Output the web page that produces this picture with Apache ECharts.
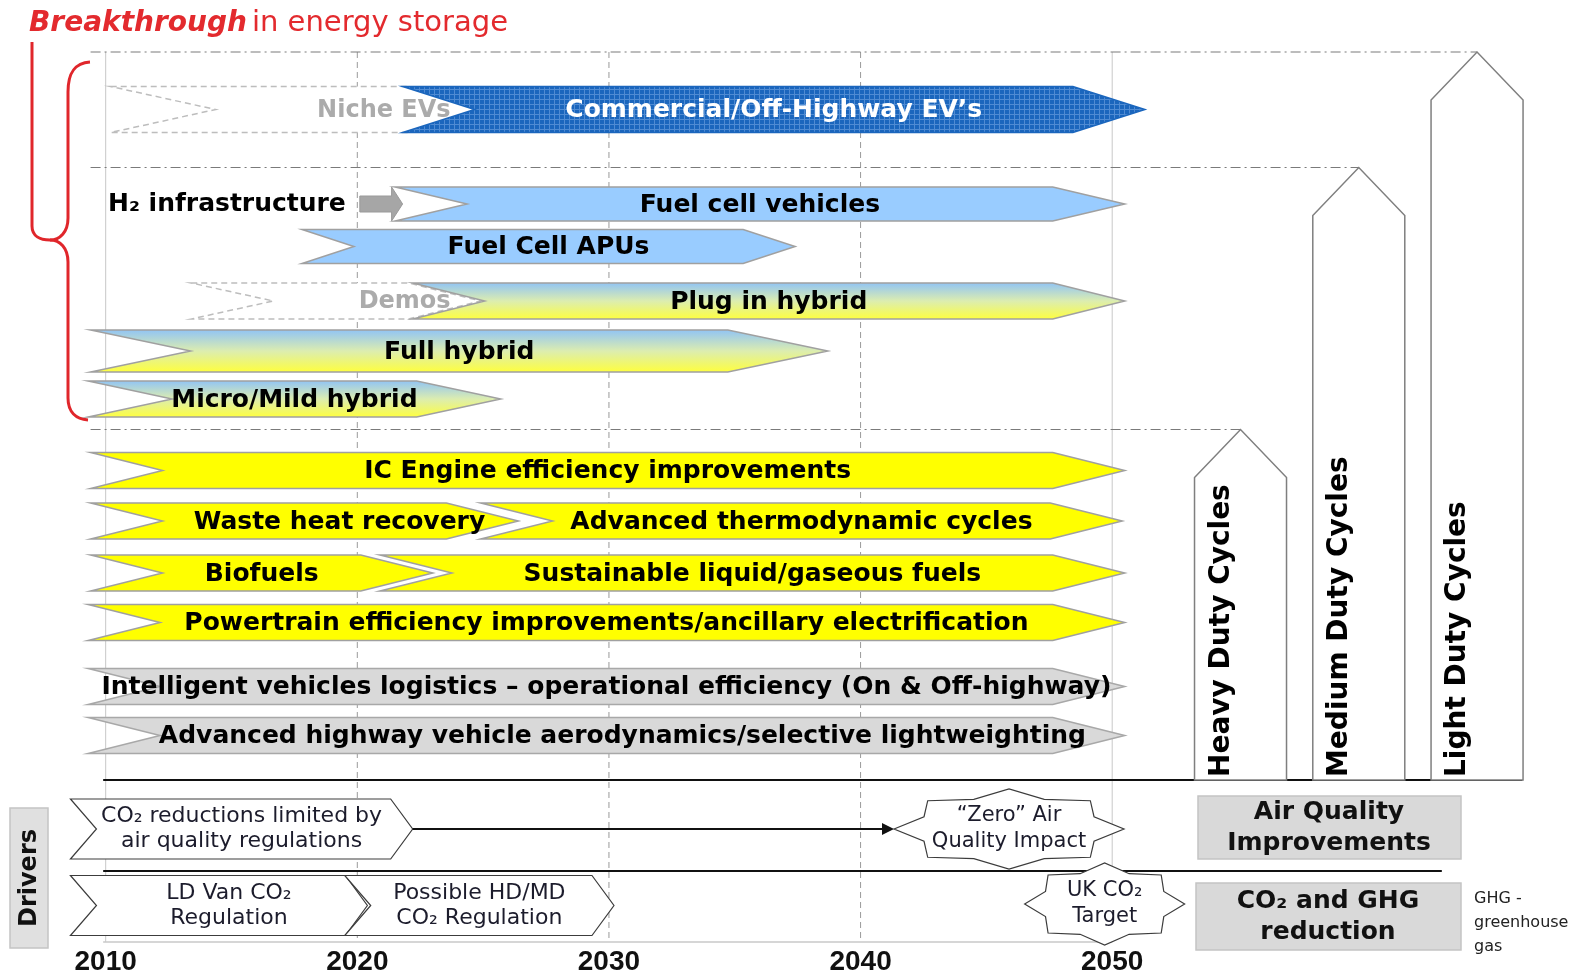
<!DOCTYPE html>
<html>
<head>
<meta charset="utf-8">
<title>Technology roadmap</title>
<script src="https://cdn.jsdelivr.net/npm/echarts@6/dist/echarts.min.js"></script>
<style>
html, body { margin: 0; padding: 0; background: #fff; }
#chart { width: 1585px; height: 973px; }
</style>
</head>
<body>
<div id="chart"></div>
<script>
// ---- data ----
const years = [2010, 2020, 2030, 2040, 2050];

// technology arrows: start / tip year, row (lane) and group
const arrowLabels = [
  'Niche EVs', 'Commercial/Off-Highway EV’s',
  'Fuel cell vehicles', 'Fuel Cell APUs',
  'Demos', 'Plug in hybrid', 'Full hybrid', 'Micro/Mild hybrid',
  'IC Engine efficiency improvements',
  'Waste heat recovery', 'Advanced thermodynamic cycles',
  'Biofuels', 'Sustainable liquid/gaseous fuels',
  'Powertrain efficiency improvements/ancillary electrification',
  'Intelligent vehicles logistics – operational efficiency (On & Off-highway)',
  'Advanced highway vehicle aerodynamics/selective lightweighting'
];
const arrowStart = [2010.2, 2021.8, 2021.5, 2017.8, 2013.4, 2022.2, 2009.4, 2009.3, 2009.4, 2009.4, 2024.9, 2009.4, 2020.9, 2009.3, 2009.3, 2009.3];
const arrowEnd   = [2024.9, 2051.3, 2050.5, 2037.4, 2024.9, 2050.5, 2038.7, 2025.7, 2050.5, 2026.4, 2050.4, 2023.0, 2050.5, 2050.5, 2050.5, 2050.5];
const arrowLane  = [1.15, 1.15, 3.04, 3.89, 4.98, 4.98, 5.98, 6.94, 8.37, 9.38, 9.38, 10.42, 10.42, 11.41, 12.69, 13.67];
const arrowGroup = ['early', 'bev', 'fuelcell', 'fuelcell', 'early', 'hybrid', 'hybrid', 'hybrid',
  'ice', 'ice', 'ice', 'ice', 'ice', 'ice', 'ops', 'ops'];

// hydrogen infrastructure lead-in
const leadLabel = 'H₂ infrastructure';
const leadFrom = 2020.1;
const leadTo = 2021.8;
const leadLane = 3.04;

// drivers
const driverLabels = ['CO₂ reductions limited by\nair quality regulations', 'LD Van CO₂\nRegulation', 'Possible HD/MD\nCO₂ Regulation'];
const driverStart = [2008.6, 2008.6, 2019.5];
const driverEnd   = [2022.2, 2020.4, 2030.2];
const driverLane  = [15.54, 17.07, 17.07];

// milestones (stars)
const milestoneLabels = ['“Zero” Air\nQuality Impact', 'UK CO₂\nTarget'];
const milestoneYear = [2045.9, 2049.7];
const milestoneLane = [15.54, 17.04];

// duty cycles: lane where each column starts
const cycleLabels = ['Heavy Duty Cycles', 'Medium Duty Cycles', 'Light Duty Cycles'];
const cycleTopLane = [7.55, 2.31, 0];

// ---- layout / style ----
const X_MIN = 2005.8, X_MAX = 2068.79;
const LANE_MAX = 17.8;
const CYCLE_X0 = 2055.1, CYCLE_STEP = 4.7, CYCLE_BASE = 14.56, SEP_FROM = 2009.4;
const RULES = [[2009.9, 2066.3, 14.56, 'black'], [2009.9, 2063.1, 16.38, 'black'], [2009.9, 2050, LANE_MAX, 'light']];
const HEAD = { 'Fuel Cell APUs': 52, 'Full hybrid': 100, 'Micro/Mild hybrid': 84 };
const NOTCH = { 'Niche EVs': 105, 'Demos': 82, 'Fuel Cell APUs': 52, 'Full hybrid': 100, 'Micro/Mild hybrid': 84 };
const THICK = { 'Niche EVs': 46, 'Commercial/Off-Highway EV’s': 46, 'Full hybrid': 42, 'Fuel cell vehicles': 34, 'Fuel Cell APUs': 34 };
const SHIFT = { 'Waste heat recovery': 35, 'Advanced highway vehicle aerodynamics/selective lightweighting': 16 };
const DRIVER_SHIFT = [0, 10, 0];
const STAR = [{ rx: 115, ry: 40 }, { rx: 80, ry: 41 }];
const FONT = 'DejaVu Sans';
const RED = '#e0262b';

function bevPattern() {
  const c = document.createElement('canvas');
  c.width = 5; c.height = 5;
  const g = c.getContext('2d');
  g.fillStyle = '#1b66bd'; g.fillRect(0, 0, 5, 5);
  g.fillStyle = '#4f8bd3'; g.fillRect(4, 0, 1, 5); g.fillRect(0, 4, 5, 1);
  return { image: c, repeat: 'repeat' };
}
const BEV_FILL = bevPattern();

const STYLE = {
  early:    { fill: () => '#ffffff', stroke: '#bdbdbd', dash: [6, 4], text: '#ababab' },
  bev:      { fill: () => BEV_FILL, stroke: '#1b66bd', text: '#ffffff' },
  fuelcell: { fill: () => '#99ccff', stroke: '#a0a0a0', text: '#000' },
  hybrid:   { fill: () => ({ type: 'linear', x: 0, y: 0, x2: 0, y2: 1, colorStops: [
                { offset: 0, color: '#8fc3f6' }, { offset: 0.5, color: '#dcedb0' }, { offset: 1, color: '#ffff3c' }] }),
              stroke: '#a0a0a0', text: '#000' },
  ice:      { fill: () => '#ffff00', stroke: '#a0a0a0', text: '#000' },
  ops:      { fill: () => '#d9d9d9', stroke: '#a8a8a8', text: '#000' }
};

function chevron(x0, x1, y, h, head, notch) {
  return [[x0, y - h / 2], [x1 - head, y - h / 2], [x1, y], [x1 - head, y + h / 2], [x0, y + h / 2], [x0 + notch, y]];
}

function renderArrow(params, api) {
  const i = api.value(3);
  const label = arrowLabels[i];
  const st = STYLE[arrowGroup[i]];
  const a = api.coord([api.value(0), api.value(2)]);
  const b = api.coord([api.value(1), api.value(2)]);
  const h = THICK[label] || 36;
  const head = HEAD[label] || 72;
  const notch = NOTCH[label] || 72;
  let tx = (a[0] + b[0]) / 2 + (SHIFT[label] || 0);
  let align = 'center';
  if (arrowGroup[i] === 'early') { tx = b[0] - 30; align = 'right'; }
  return {
    type: 'group',
    children: [
      { type: 'polygon', shape: { points: chevron(a[0], b[0], a[1], h, head, notch) },
        style: { fill: st.fill(), stroke: st.stroke, lineWidth: 1.5, lineDash: st.dash || null } },
      { type: 'text', style: { text: label, x: tx, y: a[1] + 1, align: align, verticalAlign: 'middle',
        fill: st.text, fontSize: arrowGroup[i] === 'early' ? 24 : 25, fontWeight: 'bold', fontFamily: FONT } }
    ]
  };
}

function renderLead(params, api) {
  const a = api.coord([api.value(0), api.value(2)]);
  const b = api.coord([api.value(1), api.value(2)]);
  const y = a[1];
  return {
    type: 'group',
    children: [
      { type: 'polygon', shape: { points: [[a[0], y - 8], [b[0] - 11, y - 8], [b[0] - 11, y - 17], [b[0], y],
          [b[0] - 11, y + 17], [b[0] - 11, y + 8], [a[0], y + 8]] },
        style: { fill: '#a6a6a6', stroke: '#9a9a9a', lineWidth: 1 } },
      { type: 'text', style: { text: leadLabel, x: a[0] - 14, y: y, align: 'right', verticalAlign: 'middle',
        fill: '#000', fontSize: 25, fontWeight: 'bold', fontFamily: FONT } }
    ]
  };
}

function renderDriver(params, api) {
  const i = api.value(3);
  const a = api.coord([api.value(0), api.value(2)]);
  const b = api.coord([api.value(1), api.value(2)]);
  return {
    type: 'group',
    children: [
      { type: 'polygon', shape: { points: chevron(a[0], b[0], a[1], 60, 22, 26) },
        style: { fill: '#fff', stroke: '#3c3c3c', lineWidth: 1.2 } },
      { type: 'text', style: { text: driverLabels[i], x: (a[0] + b[0]) / 2 + DRIVER_SHIFT[i], y: a[1],
        align: 'center', verticalAlign: 'middle', lineHeight: 25, fill: '#1c1c2c', fontSize: 22, fontFamily: FONT } }
    ]
  };
}

function starPoints(cx, cy, rx, ry, n, inner) {
  const pts = [];
  for (let k = 0; k < 2 * n; k++) {
    const ang = Math.PI * k / n - Math.PI;
    const r = k % 2 === 0 ? 1 : inner;
    pts.push([cx + rx * r * Math.cos(ang), cy + ry * r * Math.sin(ang)]);
  }
  return pts;
}

function renderMilestone(params, api) {
  const i = api.value(2);
  const c = api.coord([api.value(0), api.value(1)]);
  const s = STAR[i];
  return {
    type: 'group',
    children: [
      { type: 'polygon', shape: { points: starPoints(c[0], c[1], s.rx, s.ry, 8, 0.8) },
        style: { fill: '#fff', stroke: '#3c3c3c', lineWidth: 1.2 } },
      { type: 'text', style: { text: milestoneLabels[i], x: c[0], y: c[1], align: 'center', verticalAlign: 'middle',
        lineHeight: 26, fill: '#1c1c2c', fontSize: 21, fontFamily: FONT } }
    ]
  };
}

function renderLink(params, api) {
  const a = api.coord([api.value(0), api.value(2)]);
  const b = api.coord([api.value(1), api.value(2)]);
  const x1 = b[0] - STAR[0].rx;
  return {
    type: 'group',
    children: [
      { type: 'line', shape: { x1: a[0], y1: a[1], x2: x1 - 10, y2: a[1] }, style: { stroke: '#111', lineWidth: 2 } },
      { type: 'polygon', shape: { points: [[x1 - 12, a[1] - 6], [x1, a[1]], [x1 - 12, a[1] + 6]] }, style: { fill: '#111' } }
    ]
  };
}

function renderCycle(params, api) {
  const i = api.value(2);
  const tip = api.coord([api.value(0), api.value(1)]);
  const base = api.coord([api.value(0), CYCLE_BASE]);
  const start = api.coord([SEP_FROM, api.value(1)]);
  const w = 92, sh = 48;
  const l = tip[0] - w / 2, r = tip[0] + w / 2;
  return {
    type: 'group',
    children: [
      { type: 'line', shape: { x1: start[0], y1: tip[1], x2: tip[0], y2: tip[1] },
        style: { stroke: '#7a7a7a', lineWidth: 1.2, lineDash: [10, 4, 2, 4] } },
      { type: 'polygon', shape: { points: [[l, base[1]], [l, tip[1] + sh], [tip[0], tip[1]], [r, tip[1] + sh], [r, base[1]]] },
        style: { fill: '#fff', stroke: '#7f7f7f', lineWidth: 1.5 } },
      { type: 'text', x: tip[0] - 19, y: base[1] - 3, rotation: Math.PI / 2,
        style: { text: cycleLabels[i], x: 0, y: 0, align: 'left', verticalAlign: 'middle',
          fill: '#000', fontSize: 28, fontWeight: 'bold', fontFamily: FONT } }
    ]
  };
}

function renderGridLine(params, api) {
  const yr = api.value(0);
  const t = api.coord([yr, 0]);
  const b = api.coord([yr, LANE_MAX]);
  const edge = yr === years[0] || yr === years[years.length - 1];
  return { type: 'line', shape: { x1: t[0], y1: t[1], x2: b[0], y2: b[1] },
    style: { stroke: edge ? '#c8c8c8' : '#9a9a9a', lineWidth: 1, lineDash: edge ? null : [6, 4] } };
}

function renderRule(params, api) {
  const i = api.value(3);
  const a = api.coord([api.value(0), api.value(2)]);
  const b = api.coord([api.value(1), api.value(2)]);
  const black = RULES[i][3] === 'black';
  return { type: 'line', shape: { x1: a[0], y1: a[1], x2: b[0], y2: b[1] },
    style: { stroke: black ? '#111' : '#c8c8c8', lineWidth: black ? 2 : 1.5 } };
}

// red brace round the "energy storage" rows
const braceStyle = { fill: 'none', stroke: RED, lineWidth: 3 };
const brace = [
  { type: 'line', shape: { x1: 32, y1: 42, x2: 32, y2: 226 } },
  { type: 'bezierCurve', shape: { x1: 32, y1: 226, cpx1: 32, cpy1: 236, cpx2: 40, cpy2: 240, x2: 50, y2: 240 } },
  { type: 'bezierCurve', shape: { x1: 90, y1: 62, cpx1: 75, cpy1: 63, cpx2: 68, cpy2: 72, x2: 68, y2: 92 } },
  { type: 'line', shape: { x1: 68, y1: 92, x2: 68, y2: 218 } },
  { type: 'bezierCurve', shape: { x1: 68, y1: 218, cpx1: 68, cpy1: 232, cpx2: 60, cpy2: 240, x2: 50, y2: 240 } },
  { type: 'bezierCurve', shape: { x1: 50, y1: 240, cpx1: 60, cpy1: 240, cpx2: 68, cpy2: 248, x2: 68, y2: 262 } },
  { type: 'line', shape: { x1: 68, y1: 262, x2: 68, y2: 398 } },
  { type: 'bezierCurve', shape: { x1: 68, y1: 398, cpx1: 68, cpy1: 412, cpx2: 76, cpy2: 419, x2: 88, y2: 420 } }
].map(e => Object.assign(e, { style: braceStyle }));

const chart = echarts.init(document.getElementById('chart'));

const option = {
  animation: false,
  backgroundColor: '#ffffff',
  title: {
    text: '{b|Breakthrough} {r|in energy storage}',
    left: 24, top: 4,
    textStyle: {
      rich: {
        b: { fontFamily: FONT, fontStyle: 'italic', fontWeight: 'bold', fontSize: 28, color: '#e32a2e' },
        r: { fontFamily: FONT, fontWeight: 'normal', fontSize: 29, color: '#e32a2e' }
      }
    }
  },
  grid: { left: 0, right: 0, top: 52, bottom: 31, containLabel: false, outerBoundsMode: 'none' },
  xAxis: {
    type: 'value', min: X_MIN, max: X_MAX,
    axisLine: { show: false }, axisTick: { show: false }, splitLine: { show: false },
    axisLabel: { customValues: years, formatter: v => String(v), margin: 6,
      color: '#111', fontFamily: 'Liberation Sans', fontWeight: 'bold', fontSize: 28 }
  },
  yAxis: { type: 'value', inverse: true, min: 0, max: LANE_MAX, show: false },
  graphic: brace.concat([
    { type: 'rect', shape: { x: 10, y: 808, width: 38, height: 140 }, style: { fill: '#e0e0e0', stroke: '#c4c4c4', lineWidth: 1.5 } },
    { type: 'text', x: 30, y: 878, rotation: Math.PI / 2,
      style: { text: 'Drivers', x: 0, y: 0, align: 'center', verticalAlign: 'middle', fill: '#111', fontSize: 24, fontWeight: 'bold', fontFamily: FONT } },
    { type: 'rect', shape: { x: 1198, y: 796, width: 263, height: 63 }, style: { fill: '#d9d9d9', stroke: '#c4c4c4', lineWidth: 1.5 } },
    { type: 'text', style: { text: 'Air Quality\nImprovements', x: 1329, y: 828, align: 'center', verticalAlign: 'middle', lineHeight: 31,
      fill: '#111', fontSize: 25, fontWeight: 'bold', fontFamily: FONT } },
    { type: 'rect', shape: { x: 1196, y: 883, width: 265, height: 67 }, style: { fill: '#d9d9d9', stroke: '#c4c4c4', lineWidth: 1.5 } },
    { type: 'text', style: { text: 'CO₂ and GHG\nreduction', x: 1328, y: 917, align: 'center', verticalAlign: 'middle', lineHeight: 31,
      fill: '#111', fontSize: 25, fontWeight: 'bold', fontFamily: FONT } },
    { type: 'text', style: { text: 'GHG -\ngreenhouse\ngas', x: 1474, y: 887, align: 'left', verticalAlign: 'top', lineHeight: 24,
      fill: '#222', fontSize: 16, fontFamily: FONT } }
  ]),
  series: [
    { type: 'custom', name: 'grid lines', clip: false, z: 1, silent: true,
      data: years.map(y => [y, 0]), encode: { x: 0, y: 1 }, renderItem: renderGridLine },
    { type: 'custom', name: 'rules', clip: false, z: 2, silent: true,
      data: RULES.map((r, i) => [r[0], r[1], r[2], i]), encode: { x: [0, 1], y: 2 }, renderItem: renderRule },
    { type: 'custom', name: 'duty cycles', clip: false, z: 3, silent: true,
      data: cycleLabels.map((c, i) => [CYCLE_X0 + i * CYCLE_STEP, cycleTopLane[i], i]), encode: { x: 0, y: 1 }, renderItem: renderCycle },
    { type: 'custom', name: 'technologies', clip: false, z: 4, silent: true,
      data: arrowLabels.map((l, i) => [arrowStart[i], arrowEnd[i], arrowLane[i], i]), encode: { x: [0, 1], y: 2 }, renderItem: renderArrow },
    { type: 'custom', name: 'lead-in', clip: false, z: 4, silent: true,
      data: [[leadFrom, leadTo, leadLane]], encode: { x: [0, 1], y: 2 }, renderItem: renderLead },
    { type: 'custom', name: 'drivers', clip: false, z: 4, silent: true,
      data: driverLabels.map((l, i) => [driverStart[i], driverEnd[i], driverLane[i], i]), encode: { x: [0, 1], y: 2 }, renderItem: renderDriver },
    { type: 'custom', name: 'link', clip: false, z: 4, silent: true,
      data: [[driverEnd[0], milestoneYear[0], driverLane[0]]], encode: { x: [0, 1], y: 2 }, renderItem: renderLink },
    { type: 'custom', name: 'milestones', clip: false, z: 5, silent: true,
      data: milestoneLabels.map((l, i) => [milestoneYear[i], milestoneLane[i], i]), encode: { x: 0, y: 1 }, renderItem: renderMilestone }
  ]
};

chart.setOption(option);
</script>
</body>
</html>
